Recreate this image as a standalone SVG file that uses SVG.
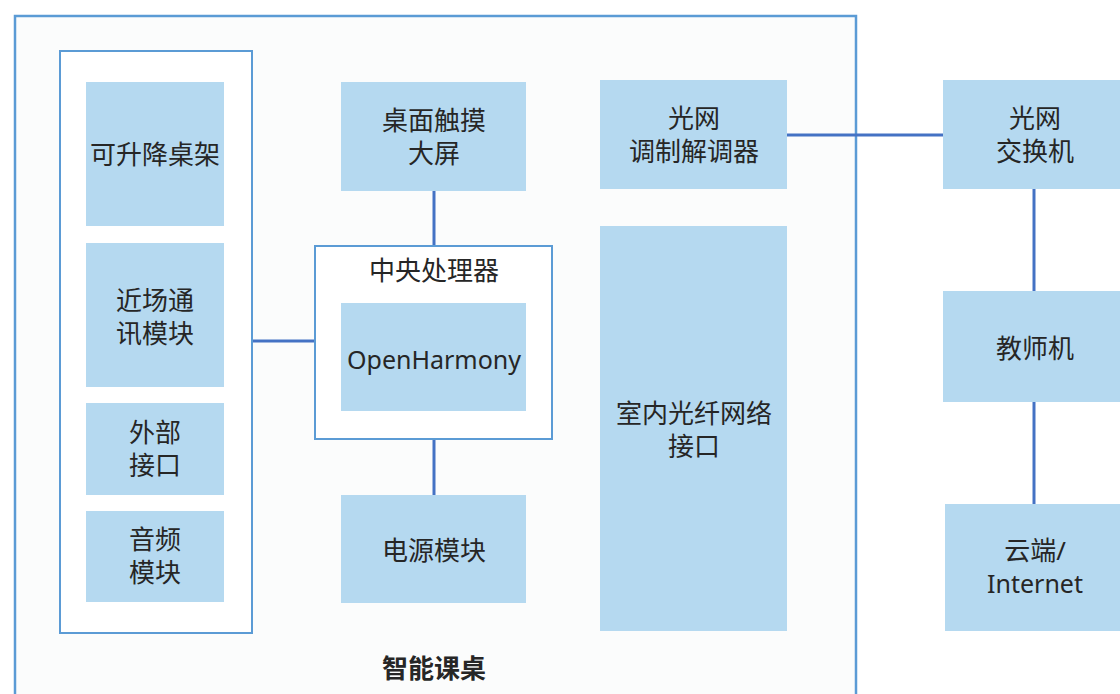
<svg xmlns="http://www.w3.org/2000/svg" width="1120" height="694" viewBox="0 0 1120 694">
<style>
.box{fill:#b5d9f0}
.frame{fill:#ffffff;stroke:#5b9bd5;stroke-width:2}
.t{font-family:"Noto Sans","Noto Sans CJK SC",sans-serif;font-size:26px;fill:#262626;text-anchor:middle;dominant-baseline:central}
.l{font-size:25px}
.b{font-weight:bold}
.c{stroke:#4472c4;stroke-width:3;fill:none}
</style>
<rect width="1120" height="694" fill="#ffffff"/>
<g id="smart-desk">
<rect x="15" y="16" width="841" height="700" fill="#fbfcfc" stroke="#5b9bd5" stroke-width="2.5"/>
<text class="t b" x="434" y="668">智能课桌</text>
</g>
<g id="connectors">
<line class="c" x1="434" y1="191" x2="434" y2="246"/>
<line class="c" x1="434" y1="439" x2="434" y2="495"/>
<line class="c" x1="252" y1="341" x2="315" y2="341"/>
<line class="c" x1="787" y1="135" x2="943" y2="135"/>
<line class="c" x1="1034" y1="189" x2="1034" y2="291"/>
<line class="c" x1="1034" y1="402" x2="1034" y2="504"/>
</g>
<g id="left-group">
<rect class="frame" x="60" y="51" width="192" height="582"/>
</g>
<g id="lift-frame">
<rect class="box" x="86" y="82" width="138" height="144"/>
<text class="t" x="155" y="154">可升降桌架</text>
</g>
<g id="nfc">
<rect class="box" x="86" y="243" width="138" height="144"/>
<text class="t" x="155" y="300">近场通</text>
<text class="t" x="155" y="333">讯模块</text>
</g>
<g id="ext-if">
<rect class="box" x="86" y="403" width="138" height="92"/>
<text class="t" x="155" y="432">外部</text>
<text class="t" x="155" y="465">接口</text>
</g>
<g id="audio">
<rect class="box" x="86" y="511" width="138" height="91"/>
<text class="t" x="155" y="539">音频</text>
<text class="t" x="155" y="572">模块</text>
</g>
<g id="touch-screen">
<rect class="box" x="341" y="82" width="185" height="109"/>
<text class="t" x="434" y="120">桌面触摸</text>
<text class="t" x="434" y="153">大屏</text>
</g>
<g id="cpu">
<rect class="frame" x="315" y="246" width="237" height="193"/>
<text class="t" x="434" y="270">中央处理器</text>
</g>
<g id="openharmony">
<rect class="box" x="341" y="303" width="185" height="108"/>
<text class="t l" x="434" y="359">OpenHarmony</text>
</g>
<g id="power">
<rect class="box" x="341" y="495" width="185" height="108"/>
<text class="t" x="434" y="550">电源模块</text>
</g>
<g id="modem">
<rect class="box" x="600" y="80" width="187" height="109"/>
<text class="t" x="694" y="118">光网</text>
<text class="t" x="694" y="151">调制解调器</text>
</g>
<g id="fiber-if">
<rect class="box" x="600" y="226" width="187" height="405"/>
<text class="t" x="694" y="413">室内光纤网络</text>
<text class="t" x="694" y="446">接口</text>
</g>
<g id="switch">
<rect class="box" x="943" y="80" width="185" height="109"/>
<text class="t" x="1035" y="118">光网</text>
<text class="t" x="1035" y="151">交换机</text>
</g>
<g id="teacher">
<rect class="box" x="943" y="291" width="185" height="111"/>
<text class="t" x="1035" y="348">教师机</text>
</g>
<g id="cloud">
<rect class="box" x="945" y="504" width="185" height="127"/>
<text class="t" x="1035" y="550">云端/</text>
<text class="t l" x="1035" y="583">Internet</text>
</g>
</svg>
